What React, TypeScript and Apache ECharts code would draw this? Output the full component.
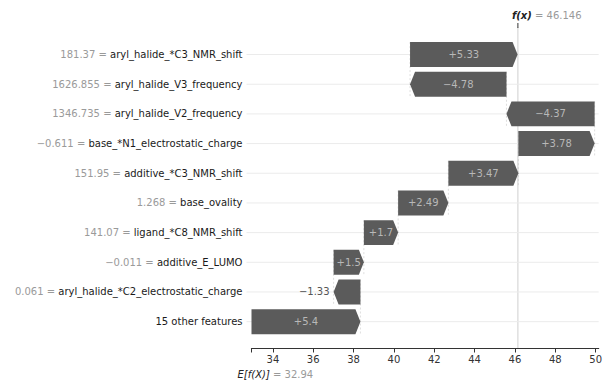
import React, { useEffect, useRef } from "react";
import * as echarts from "echarts";

const featureNames = [
  "aryl_halide_*C3_NMR_shift",
  "aryl_halide_V3_frequency",
  "aryl_halide_V2_frequency",
  "base_*N1_electrostatic_charge",
  "additive_*C3_NMR_shift",
  "base_ovality",
  "ligand_*C8_NMR_shift",
  "additive_E_LUMO",
  "aryl_halide_*C2_electrostatic_charge",
  "15 other features",
];
const featureValues = [
  "181.37",
  "1626.855",
  "1346.735",
  "\u22120.611",
  "151.95",
  "1.268",
  "141.07",
  "\u22120.011",
  "0.061",
  "",
];
const shapValues = [5.33, -4.78, -4.37, 3.78, 3.47, 2.49, 1.7, 1.5, -1.33, 5.4];
const baseValue = 32.94;
const fxValue = 46.146;
const xTickValues = [34, 36, 38, 40, 42, 44, 46, 48, 50];
const xMin = 32.94;
const xMax = 50.15;

const GRID_TOP = 39.7;
const GRID_BOTTOM = 43.5;
const AXIS_OFFSET = 12;
const BAR_COLOR = "#5b5b5b";
const FONT = "DejaVu Sans";

function buildRows() {
  const n = shapValues.length;
  const rows: number[][] = new Array(n);
  let cur = baseValue;
  for (let k = n - 1; k >= 0; k--) {
    const s = cur;
    const e = cur + shapValues[k];
    rows[k] = [s, e, k, shapValues[k]];
    cur = e;
  }
  return rows;
}

function fmtShap(v: number) {
  const a = Math.abs(v);
  const s = String(Math.round(a * 100) / 100);
  return v >= 0 ? "+" + s : "\u2212" + s;
}

export default function App() {
  const ref = useRef<HTMLDivElement>(null);
  useEffect(() => {
    document.body.style.margin = "0";
    if (!ref.current) return;
    const chart = echarts.init(ref.current, undefined, { renderer: "svg" });
    const rows = buildRows();
    const n = rows.length;
    chart.setOption({
      animation: false,
      backgroundColor: "#ffffff",
      grid: { left: 251.5, right: 5, top: GRID_TOP, bottom: GRID_BOTTOM },
      xAxis: {
        type: "value",
        min: xMin,
        max: xMax,
        offset: AXIS_OFFSET,
        splitLine: { show: false },
        axisLine: { show: true, lineStyle: { color: "#333333", width: 1.2 } },
        axisTick: {
          show: true,
          length: 4,
          customValues: [baseValue, ...xTickValues],
          lineStyle: { color: "#333333" },
        },
        axisLabel: {
          customValues: xTickValues,
          color: "#333333",
          fontSize: 10,
          fontFamily: FONT,
          margin: 6,
        },
      },
      yAxis: {
        type: "category",
        inverse: true,
        data: featureNames,
        axisLine: { show: false },
        axisTick: { show: false },
        splitLine: { show: false },
        axisLabel: {
          margin: 9,
          formatter: (value: string, index: number) =>
            featureValues[index]
              ? `{v|${featureValues[index]} = }{n|${value}}`
              : `{n|${value}}`,
          rich: {
            v: { color: "#9a9a9a", fontSize: 10, fontFamily: FONT },
            n: { color: "#1a1a1a", fontSize: 10, fontFamily: FONT },
          },
        },
      },
      series: [
        {
          type: "custom",
          data: rows,
          encode: { x: [0, 1], y: 2 },
          renderItem: (params: any, api: any) => {
            const s = api.value(0);
            const e = api.value(1);
            const k = api.value(2);
            const v = api.value(3);
            const ps = api.coord([s, k]);
            const pe = api.coord([e, k]);
            const band = api.size([0, 1])[1];
            const h = band * 0.84;
            const y = ps[1];
            const x0 = ps[0];
            const x1 = pe[0];
            const dir = x1 >= x0 ? 1 : -1;
            const w = Math.abs(x1 - x0);
            const head = Math.min(5, w);
            const cs = params.coordSys;
            const children: any[] = [];
            children.push({
              type: "line",
              shape: { x1: cs.x - 5, y1: y, x2: cs.x + cs.width, y2: y },
              style: { stroke: "#ebebeb", lineWidth: 1 },
              z2: 0,
            });
            if (k < n - 1) {
              children.push({
                type: "line",
                shape: { x1: x0, y1: y - h / 2, x2: x0, y2: y + band + h / 2 },
                style: { stroke: "#c8c8c8", lineWidth: 0.6, lineDash: [2, 2] },
                z2: 1,
              });
            }
            children.push({
              type: "polygon",
              shape: {
                points: [
                  [x0, y - h / 2],
                  [x1 - dir * head, y - h / 2],
                  [x1, y],
                  [x1 - dir * head, y + h / 2],
                  [x0, y + h / 2],
                ],
              },
              style: { fill: BAR_COLOR },
              z2: 2,
            });
            const label = fmtShap(v);
            if (w > 28.5) {
              children.push({
                type: "text",
                x: (x0 + x1) / 2,
                y: y,
                style: {
                  text: label,
                  fill: "#b8b8b8",
                  fontSize: 10,
                  fontFamily: FONT,
                  align: "center",
                  verticalAlign: "middle",
                },
                z2: 3,
              });
            } else {
              children.push({
                type: "text",
                x: dir < 0 ? x1 - 4 : x1 + 4,
                y: y,
                style: {
                  text: label,
                  fill: "#555555",
                  fontSize: 10,
                  fontFamily: FONT,
                  align: dir < 0 ? "right" : "left",
                  verticalAlign: "middle",
                },
                z2: 3,
              });
            }
            return { type: "group", children };
          },
        },
      ],
    });

    const fxPx = chart.convertToPixel({ xAxisIndex: 0 }, fxValue) as number;
    const basePx = chart.convertToPixel({ xAxisIndex: 0 }, baseValue) as number;
    const axisY = 380 - GRID_BOTTOM + AXIS_OFFSET;
    chart.setOption({
      graphic: [
        {
          type: "line",
          shape: { x1: fxPx, y1: 27, x2: fxPx, y2: axisY },
          style: { stroke: "#cfcfcf", lineWidth: 1 },
          z: -1,
        },
        {
          type: "line",
          shape: { x1: fxPx, y1: 23, x2: fxPx, y2: 28 },
          style: { stroke: "#333333", lineWidth: 1 },
        },
        {
          type: "text",
          x: fxPx - 6,
          y: 15,
          style: {
            text: "{f|f(x)}{g| = " + fxValue + "}",
            verticalAlign: "middle",
            align: "left",
            rich: {
              f: { fontFamily: FONT, fontSize: 10, fontStyle: "italic", fontWeight: "bold", fill: "#222222" },
              g: { fontFamily: FONT, fontSize: 10, fill: "#9a9a9a" },
            },
          },
        },
        {
          type: "text",
          x: basePx - 14,
          y: 374,
          style: {
            text: "{f|E[f(X)]}{g| = " + baseValue + "}",
            verticalAlign: "middle",
            align: "left",
            rich: {
              f: { fontFamily: FONT, fontSize: 10, fontStyle: "italic", fill: "#222222" },
              g: { fontFamily: FONT, fontSize: 10, fill: "#9a9a9a" },
            },
          },
        },
      ],
    });
    return () => chart.dispose();
  }, []);
  return <div ref={ref} style={{ width: 605, height: 380 }} />;
}
